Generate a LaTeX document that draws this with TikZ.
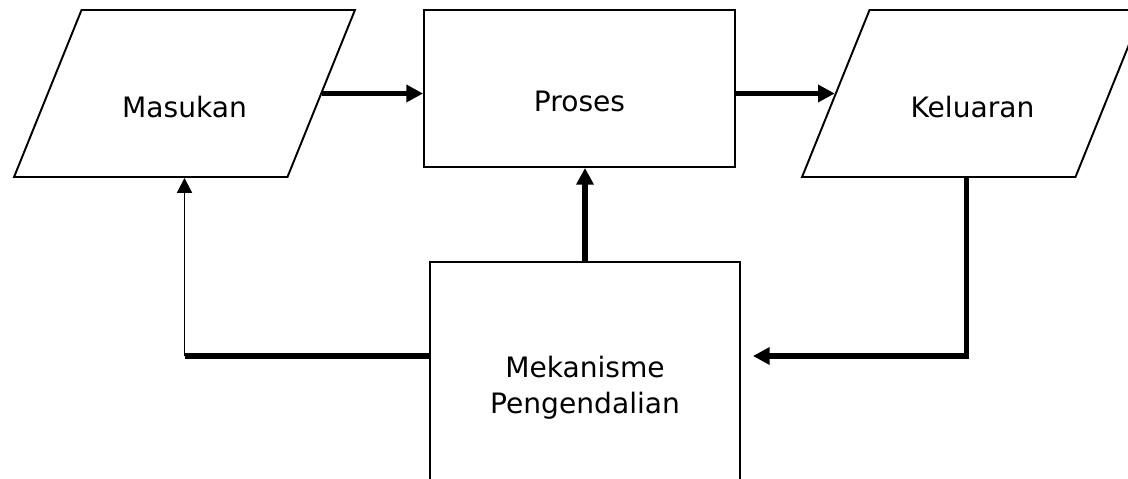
\documentclass[tikz,border=0pt]{standalone}
\usepackage{fontspec}
\setmainfont{DejaVu Sans}
\usetikzlibrary{shapes.geometric,arrows.meta}

\tikzset{
	kotak/.style={draw, line width=1.1pt, minimum width=6.22cm, minimum height=3.14cm},
	jajar/.style={draw, line width=1.1pt, shape=trapezium, trapezium left angle=68, trapezium right angle=112,
		inner xsep=2.06cm, inner ysep=1.67cm, minimum width=0pt, minimum height=0pt},
	teks/.style={anchor=base, font=\fontsize{16}{20.4}\selectfont},
	garis/.style={line width=3pt},
	panah/.style={garis, -{Triangle[length=9.5pt,width=9.5pt]}},
	panahtipis/.style={line width=1.1pt, -{Triangle[length=8.5pt,width=8.5pt]}},
}

\begin{document}
\begin{tikzpicture}[x=0.02cm, y=-0.02cm]
		\path[use as bounding box] (0,0) rectangle (1128,479);
		\clip (0,0) rectangle (1128,479);

		\node[jajar] (Masukan)  at (184.5,93.5) {};
		\node[kotak] (Proses)   at (579.5,88.5) {};
		\node[jajar] (Keluaran) at (972.5,93.5) {};
		\node[kotak, minimum width=6.2cm, minimum height=5.04cm, align=center,
			font=\fontsize{16}{20.4}\selectfont] (Mekanisme) at (585,388) {Mekanisme\\Pengendalian};

		\node[teks] (tMasukan)  at (184.5,118) {Masukan};
		\node[teks] (tProses)   at (579.5,112) {Proses};
		\node[teks] (tKeluaran) at (972.5,118) {Keluaran};

		\coordinate (umpan) at (0,356);
		\coordinate (kanan) at ([xshift=-2.2cm]Keluaran.bottom right corner);

		\draw[panah] (Masukan.east) -- (Masukan.east -| Proses.west);
		\draw[panah] (Proses.east |- Keluaran.west) -- (Keluaran.west);
		\draw[panah] (Mekanisme.north) -- (Mekanisme.north |- Proses.south);

		% umpan balik
		\draw[garis] (Mekanisme.west |- umpan) -- (Masukan.center |- umpan);
		\draw[panahtipis] (Masukan.center |- umpan) -- (Masukan.center |- Masukan.south);
		\draw[panah, shorten >=0.24cm] (kanan) |- (Mekanisme.east |- umpan);

	\end{tikzpicture}
\end{document}
